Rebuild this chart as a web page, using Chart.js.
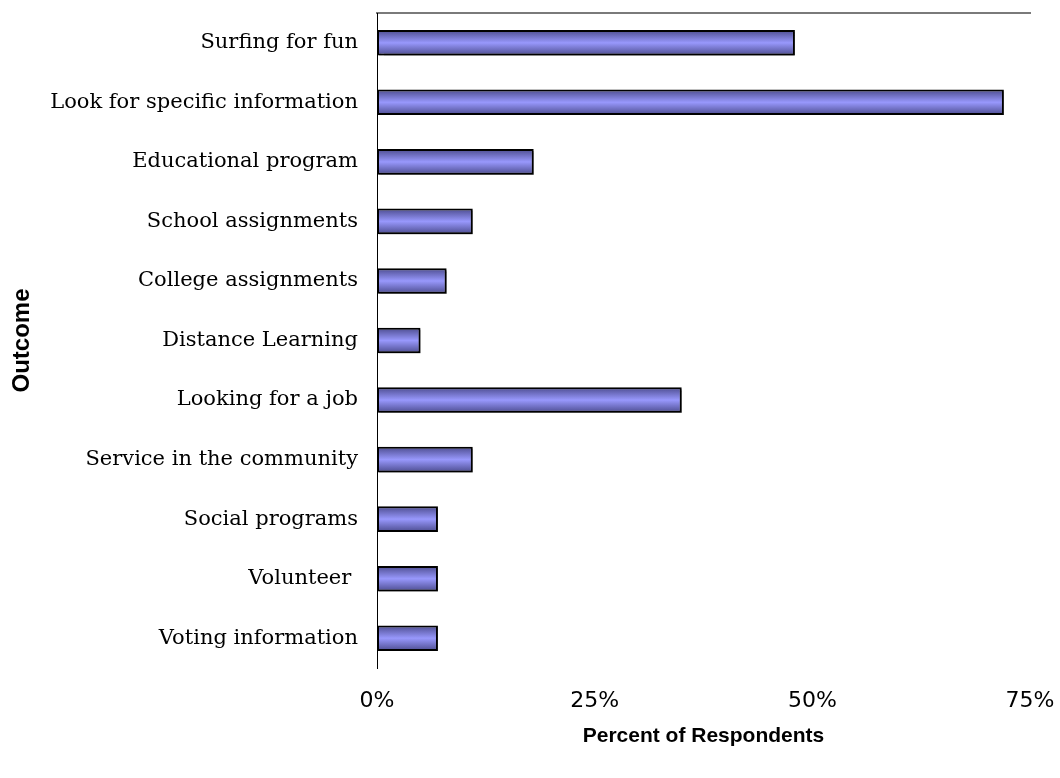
<!DOCTYPE html>
<html>
<head>
<meta charset="utf-8">
<title>Online activities</title>
<script src="https://cdn.jsdelivr.net/npm/chart.js@4.4.1/dist/chart.umd.min.js"></script>
<style>
  html, body { margin: 0; padding: 0; background: #fff; }
  #wrap { width: 1060px; height: 778px; }
</style>
</head>
<body>
<div id="wrap"><canvas id="outcomeChart" width="1060" height="778"></canvas></div>
<script>
const outcomes = [
  "Surfing for fun",
  "Look for specific information",
  "Educational program",
  "School assignments",
  "College assignments",
  "Distance Learning",
  "Looking for a job",
  "Service in the community",
  "Social programs",
  "Volunteer ",
  "Voting information"
];
const percents = [48, 72, 18, 11, 8, 5, 35, 11, 7, 7, 7];
const tickValues = [0, 25, 50, 75];

// soft drop shadow behind the bars
const barShadow = {
  id: "barShadow",
  beforeDatasetDraw(chart) {
    const c = chart.ctx;
    c.save();
    c.shadowColor = "rgba(0,0,0,0.4)";
    c.shadowOffsetX = 2;
    c.shadowOffsetY = 2;
    c.shadowBlur = 1;
  },
  afterDatasetDraw(chart) {
    chart.ctx.restore();
  }
};

// shaded tube look: dark edges, light middle
function barFill(context) {
  const chart = context.chart;
  const yScale = chart.scales.y;
  if (!yScale || context.dataIndex === undefined) return "#8a8af0";
  const yc = yScale.getPixelForValue(context.dataIndex);
  if (!Number.isFinite(yc)) return "#8a8af0";
  const half = 13;
  const g = chart.ctx.createLinearGradient(0, yc - half, 0, yc + half);
  g.addColorStop(0, "#4a4a8c");
  g.addColorStop(0.5, "#9898fc");
  g.addColorStop(1, "#4a4a8c");
  return g;
}

new Chart(document.getElementById("outcomeChart"), {
  type: "bar",
  data: {
    labels: outcomes,
    datasets: [{
      data: percents,
      backgroundColor: barFill,
      borderColor: "#000",
      borderWidth: 2,
      borderSkipped: false,
      categoryPercentage: 1,
      barPercentage: 0.43
    }]
  },
  plugins: [barShadow],
  options: {
    indexAxis: "y",
    responsive: false,
    animation: false,
    layout: { padding: 0 },
    plugins: {
      legend: { display: false },
      tooltip: { enabled: false }
    },
    scales: {
      x: {
        min: 0,
        max: 75,
        afterBuildTicks(axis) {
          axis.ticks = tickValues.map((v) => ({ value: v }));
        },
        afterFit(axis) {
          axis.height = 110;
          axis.paddingRight = 30;
        },
        grid: { display: false, drawTicks: false },
        border: { display: false },
        ticks: {
          color: "#000",
          padding: 20,
          maxRotation: 0,
          font: { family: "DejaVu Sans", size: 22 },
          callback: (v) => v + "%"
        },
        title: {
          display: true,
          text: "Percent of Respondents",
          color: "#000",
          padding: { top: 0, bottom: 29 },
          font: { family: "Liberation Sans", size: 21, weight: "bold" }
        }
      },
      xTop: {
        axis: "x",
        position: "top",
        min: 0,
        max: 75,
        afterFit(axis) {
          axis.height = 13;
        },
        grid: { display: false, drawTicks: false },
        border: { display: true, color: "#7a7a7a", width: 2 },
        ticks: { display: false }
      },
      y: {
        afterFit(axis) {
          axis.width = 377;
          axis.paddingTop = 0;
          axis.paddingBottom = 0;
        },
        grid: { display: false, drawTicks: false },
        border: { display: true, color: "#000", width: 1 },
        ticks: {
          color: "#000",
          padding: 19,
          font: { family: "DejaVu Serif", size: 21 }
        },
        title: {
          display: true,
          text: "Outcome",
          color: "#000",
          padding: { top: 8, bottom: 0 },
          font: { family: "Liberation Sans", size: 24, weight: "bold" }
        }
      }
    }
  }
});
</script>
</body>
</html>
